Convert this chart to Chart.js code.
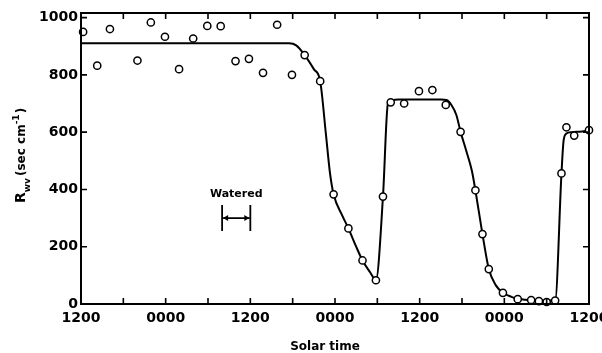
<!DOCTYPE html>
<html lang="en">
<head>
  <meta charset="UTF-8">
  <title>Rwv vs solar time</title>
  <script src="https://cdn.jsdelivr.net/npm/chart.js"></script>
  <style>
    html, body { margin: 0; padding: 0; background: #fff; }
    #wrap { width: 602px; height: 353px; }
  </style>
</head>
<body>
  <div id="wrap"><canvas id="rwvChart"></canvas></div>

  <script>
    // x = hours after the first 1200 on the axis
    const obsHours = [0.3, 2.3, 4.1, 8.0, 9.9, 11.9, 13.9, 15.9, 17.9, 19.8, 21.9, 23.8, 25.8, 27.8, 29.9,
                      31.7, 33.9, 35.8, 37.9, 39.9, 41.8, 42.8, 43.9, 45.8, 47.9, 49.8, 51.7, 53.8,
                      55.9, 56.9, 57.8, 59.8, 61.9, 63.8, 64.9, 66.0, 67.2, 68.1, 68.8, 69.9, 72.0];
    const obsRwv = [950, 832, 960, 850, 983, 933, 820, 927, 971, 970, 848, 856, 807, 975, 800,
                    869, 778, 383, 264, 152, 83, 375, 704, 700, 743, 747, 695, 601,
                    397, 244, 122, 39, 17, 14, 10, 7, 12, 456, 617, 588, 607];

    // fitted curve
    const fitHours = [0, 29.5, 30.5, 31.7, 33, 33.9, 34.7, 35.3, 35.8, 37, 37.9, 39, 39.9, 41, 41.8,
                      42.8, 43.5, 44.2, 45, 51, 51.8, 52.5, 53.2, 53.8, 54.6, 55.4, 55.9, 56.9, 57.8,
                      58.8, 59.8, 61, 62, 64, 67.2, 68.1, 68.4, 68.8, 69.5, 71, 72];
    const fitRwv = [910, 910, 903, 869, 820, 778, 596, 455, 383, 310, 264, 200, 152, 110, 83,
                    375, 700, 712, 714, 714, 712, 695, 660, 601, 535, 465, 397, 244, 122,
                    65, 39, 25, 18, 13, 12, 456, 570, 595, 600, 602, 607];

    const xTickHours = [0, 6, 12, 18, 24, 30, 36, 42, 48, 54, 60, 66, 72];
    const xTickText = ['1200', '0000'];
    const yTickValues = [0, 200, 400, 600, 800, 1000];

    const wateredFrom = 20;
    const wateredTo = 24;
    const wateredLevel = 300;

    const font = "'DejaVu Sans', sans-serif";

    const framePlugin = {
      id: 'frame',
      afterDraw(chart) {
        const ctx = chart.ctx;
        const a = chart.chartArea;
        const xs = chart.scales.x, ys = chart.scales.y;
        const tl = 6;
        ctx.save();
        ctx.strokeStyle = '#000';
        ctx.lineWidth = 2;
        ctx.strokeRect(a.left, a.top, a.right - a.left, a.bottom - a.top);

        // inward ticks on all four sides
        ctx.lineWidth = 1.6;
        ctx.beginPath();
        xTickHours.forEach(h => {
          const px = xs.getPixelForValue(h);
          ctx.moveTo(px, a.bottom); ctx.lineTo(px, a.bottom - tl);
          ctx.moveTo(px, a.top); ctx.lineTo(px, a.top + tl);
        });
        yTickValues.forEach(v => {
          const py = ys.getPixelForValue(v);
          ctx.moveTo(a.left, py); ctx.lineTo(a.left + tl, py);
          ctx.moveTo(a.right, py); ctx.lineTo(a.right - tl, py);
        });
        ctx.stroke();

        // watered bracket
        const x1 = xs.getPixelForValue(wateredFrom);
        const x2 = xs.getPixelForValue(wateredTo);
        const yl = ys.getPixelForValue(wateredLevel);
        ctx.lineWidth = 1.8;
        ctx.beginPath();
        ctx.moveTo(x1, yl - 13); ctx.lineTo(x1, yl + 13);
        ctx.moveTo(x2, yl - 13); ctx.lineTo(x2, yl + 13);
        ctx.moveTo(x1 + 1, yl); ctx.lineTo(x2 - 1, yl);
        ctx.stroke();
        ctx.beginPath();
        ctx.moveTo(x1 + 1, yl); ctx.lineTo(x1 + 6, yl - 3); ctx.lineTo(x1 + 6, yl + 3); ctx.closePath();
        ctx.moveTo(x2 - 1, yl); ctx.lineTo(x2 - 6, yl - 3); ctx.lineTo(x2 - 6, yl + 3); ctx.closePath();
        ctx.fillStyle = '#000';
        ctx.fill();
        ctx.font = 'bold 11px ' + font;
        ctx.textAlign = 'center';
        ctx.textBaseline = 'middle';
        ctx.fillText('Watered', (x1 + x2) / 2, yl - 24);

        // x title
        ctx.font = 'bold 12px ' + font;
        ctx.fillText('Solar time', (a.left + a.right) / 2 - 10, 347);

        // y title with sub/superscript
        ctx.translate(25, 203);
        ctx.rotate(-Math.PI / 2);
        ctx.textAlign = 'left';
        ctx.textBaseline = 'alphabetic';
        let x = 0;
        ctx.font = 'bold 14px ' + font;
        ctx.fillText('R', x, 0); x += ctx.measureText('R').width;
        ctx.font = 'bold 9px ' + font;
        ctx.fillText('wv', x, 5); x += ctx.measureText('wv').width + 2;
        ctx.font = 'bold 12px ' + font;
        ctx.fillText('(sec cm', x, 0); x += ctx.measureText('(sec cm').width;
        ctx.font = 'bold 9px ' + font;
        ctx.fillText('-1', x, -6); x += ctx.measureText('-1').width + 1;
        ctx.font = 'bold 12px ' + font;
        ctx.fillText(')', x, 0);
        ctx.restore();
      }
    };

    new Chart(document.getElementById('rwvChart'), {
      type: 'scatter',
      data: {
        datasets: [
          {
            label: 'Observed',
            data: obsHours.map((h, i) => ({ x: h, y: obsRwv[i] })),
            pointStyle: 'circle',
            pointRadius: 3.6,
            pointBorderWidth: 1.5,
            pointBackgroundColor: '#fff',
            pointBorderColor: '#000',
            showLine: false,
            clip: false
          },
          {
            label: 'Fit',
            data: fitHours.map((h, i) => ({ x: h, y: fitRwv[i] })),
            showLine: true,
            borderColor: '#000',
            borderWidth: 2,
            pointRadius: 0,
            cubicInterpolationMode: 'monotone'
          }
        ]
      },
      options: {
        responsive: true,
        maintainAspectRatio: false,
        animation: false,
        layout: { padding: { top: 13, right: 13, left: 0, bottom: 0 } },
        plugins: { legend: { display: false }, tooltip: { enabled: false } },
        scales: {
          x: {
            type: 'linear',
            min: 0,
            max: 72,
            afterBuildTicks: s => { s.ticks = xTickHours.map(v => ({ value: v })); },
            afterFit: s => { s.height = 49; s.paddingLeft = 0; s.paddingRight = 0; },
            grid: { display: false, drawTicks: false },
            border: { display: false },
            ticks: {
              autoSkip: false,
              maxRotation: 0,
              padding: 6,
              color: '#000',
              font: { family: font, size: 14, weight: 'bold' },
              callback: v => (v % 12 === 0 ? xTickText[(v / 12) % 2] : '')
            }
          },
          y: {
            min: 0,
            max: 1016,
            afterBuildTicks: s => { s.ticks = yTickValues.map(v => ({ value: v })); },
            afterFit: s => { s.width = 81; s.paddingTop = 0; s.paddingBottom = 0; },
            grid: { display: false, drawTicks: false },
            border: { display: false },
            ticks: {
              padding: 3,
              color: '#000',
              font: { family: font, size: 14, weight: 'bold' },
              callback: v => String(v)
            }
          }
        }
      },
      plugins: [framePlugin]
    });
  </script>
</body>
</html>
